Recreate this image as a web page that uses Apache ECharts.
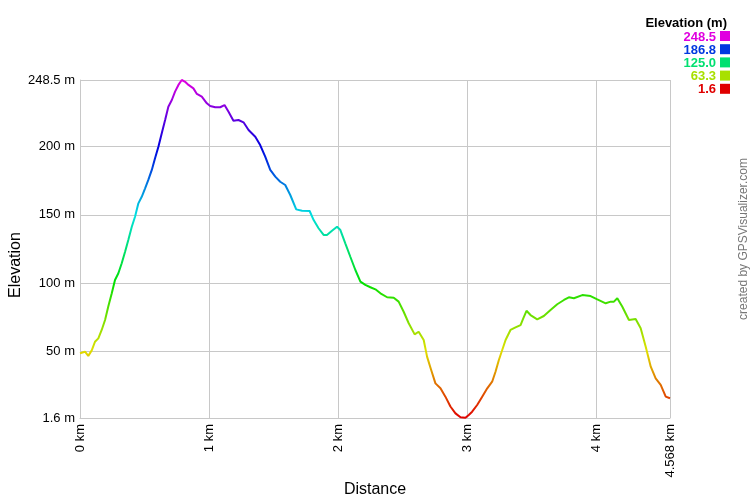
<!DOCTYPE html>
<html>
<head>
<meta charset="utf-8">
<script src="https://cdn.jsdelivr.net/npm/echarts@6/dist/echarts.min.js"></script>
<style>html,body{margin:0;padding:0;background:#fff}#c{width:750px;height:500px}</style>
</head>
<body>
<div id="c"></div>
<script>
// Distance along the track (km)
const distanceKm = [
  0.000,0.039,0.064,0.091,0.116,0.142,0.168,0.194,0.219,0.246,0.271,0.297,0.323,0.349,0.374,0.401,0.426,0.452,0.478,0.504,
  0.529,0.556,0.581,0.607,0.633,0.659,0.684,0.711,0.736,0.762,0.788,0.814,0.840,0.878,0.905,0.943,0.982,1.008,1.047,1.085,
  1.119,1.150,1.188,1.227,1.266,1.305,1.357,1.395,1.434,1.473,1.512,1.550,1.589,1.628,1.674,1.719,1.778,1.809,1.847,1.886,
  1.912,1.951,1.990,2.016,2.054,2.093,2.132,2.171,2.209,2.248,2.287,2.326,2.378,2.429,2.467,2.506,2.545,2.591,2.622,2.661,
  2.687,2.719,2.752,2.791,2.829,2.868,2.907,2.946,2.961,2.984,3.010,3.036,3.075,3.114,3.153,3.191,3.217,3.243,3.269,3.295,
  3.333,3.372,3.411,3.432,3.457,3.488,3.540,3.591,3.643,3.695,3.747,3.785,3.824,3.889,3.953,4.005,4.070,4.109,4.134,4.160,
  4.199,4.250,4.302,4.341,4.380,4.419,4.457,4.496,4.535,4.568
];
// Elevation (m)
const elevationM = [
  48.9,50.0,47.0,51.0,57.3,59.8,65.9,73.2,83.0,92.7,102.4,107.3,114.6,123.0,131.6,141.3,148.6,158.4,163.2,169.4,
  175.5,182.8,191.3,199.8,209.6,219.3,229.0,233.9,240.0,244.9,248.5,247.2,244.9,242.4,238.3,236.3,231.5,229.5,228.6,228.6,
  230.2,225.3,218.8,219.3,217.6,212.0,207.1,201.0,192.5,182.8,177.9,174.2,171.8,164.5,154.0,153.0,152.8,146.2,140.2,135.3,
  135.3,138.4,141.3,138.9,129.2,119.4,109.7,101.2,98.8,97.1,95.6,92.7,89.8,89.5,86.6,79.2,70.8,62.7,64.6,58.6,
  46.4,36.7,26.9,23.3,17.2,10.0,5.0,2.1,1.6,1.8,3.8,6.2,11.1,17.2,23.3,28.1,35.4,44.0,51.3,58.6,
  65.9,67.8,69.5,74.4,79.9,76.8,73.7,76.1,80.5,84.7,87.8,89.8,89.1,91.4,90.7,88.3,85.4,86.6,86.6,89.1,
  82.9,73.2,73.9,67.1,53.7,39.1,30.6,25.8,17.2,16.0
];
const yTicks = [1.6, 50, 100, 150, 200, 248.5];
const xTicks = [0, 1, 2, 3, 4, 4.568];
const legendValues = [248.5, 186.8, 125.0, 63.3, 1.6];
const legendColors = ['#e000e0', '#0038e0', '#00e070', '#a8e000', '#e00000'];
const hueColors = ['#e00000','#e07000','#e0e000','#70e000','#00e000','#00e070','#00e0e0','#0070e0','#0000e0','#7000e0','#e000e0'];

const FONT = '"Liberation Sans", Arial, sans-serif';
const chart = echarts.init(document.getElementById('c'), null, {renderer: 'canvas'});

const legendGraphics = [{
  type: 'text', right: 23, top: 17,
  style: {text: 'Elevation (m)', font: 'bold 13px ' + FONT, fill: '#000'}
}];
legendValues.forEach((v, i) => {
  legendGraphics.push({
    type: 'text', right: 34, top: 30.5 + i * 13.2,
    style: {text: v.toFixed(1), font: 'bold 13px ' + FONT, fill: legendColors[i]}
  });
  legendGraphics.push({
    type: 'rect', shape: {x: 720, y: 31 + i * 13.2, width: 10, height: 10},
    style: {fill: legendColors[i]}
  });
});

const option = {
  animation: false,
  backgroundColor: '#fff',
  grid: {left: 80, right: 80, top: 80, bottom: 82, containLabel: false},
  xAxis: {
    type: 'value', min: 0, max: 4.568,
    axisLine: {show: true, lineStyle: {color: '#c8c8c8', width: 1}},
    axisTick: {show: false, customValues: xTicks},
    splitLine: {show: true, lineStyle: {color: '#c8c8c8', width: 1}},
    axisLabel: {
      customValues: xTicks, rotate: 90, margin: 6,
      formatter: v => v + ' km',
      fontFamily: FONT, fontSize: 13, color: '#000'
    }
  },
  yAxis: {
    type: 'value', min: 1.6, max: 248.5,
    axisLine: {show: true, lineStyle: {color: '#c8c8c8', width: 1}},
    axisTick: {show: false, customValues: yTicks},
    splitLine: {show: true, lineStyle: {color: '#c8c8c8', width: 1}},
    axisLabel: {
      customValues: yTicks, margin: 5,
      formatter: v => v + ' m',
      fontFamily: FONT, fontSize: 13, color: '#000'
    }
  },
  visualMap: {
    show: false, type: 'continuous', dimension: 1,
    min: 1.6, max: 248.5, inRange: {color: hueColors}
  },
  series: [{
    type: 'line',
    data: distanceKm.map((d, i) => [d, elevationM[i]]),
    showSymbol: false,
    lineStyle: {width: 2},
    smooth: false
  }],
  graphic: legendGraphics.concat([
    {type: 'text', x: 16, y: 265, rotation: Math.PI / 2,
     style: {text: 'Elevation', font: '16px ' + FONT, fill: '#000', align: 'center', verticalAlign: 'middle'}},
    {type: 'text', x: 375, y: 490,
     style: {text: 'Distance', font: '16px ' + FONT, fill: '#000', align: 'center', verticalAlign: 'middle'}},
    {type: 'text', x: 744, y: 239, rotation: Math.PI / 2,
     style: {text: 'created by GPSVisualizer.com', font: '12px ' + FONT, fill: '#777', align: 'center', verticalAlign: 'middle'}}
  ])
};
chart.setOption(option);
</script>
</body>
</html>
